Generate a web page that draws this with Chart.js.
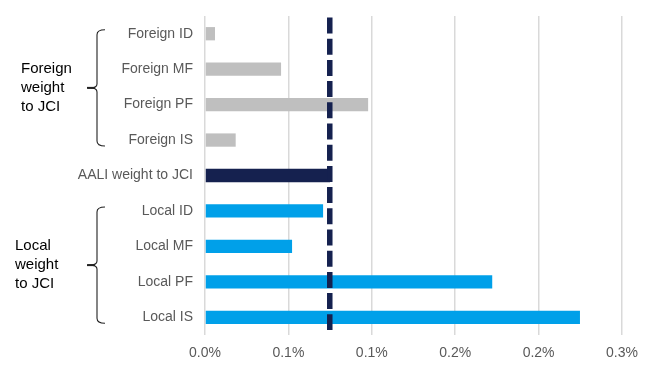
<!DOCTYPE html>
<html>
<head>
<meta charset="utf-8">
<script src="https://cdn.jsdelivr.net/npm/chart.js@4/dist/chart.umd.min.js"></script>
<style>
  html, body { margin: 0; padding: 0; background: #ffffff; }
  #wrap { width: 657px; height: 367px; position: relative; }
</style>
</head>
<body>
<div id="wrap"><canvas id="c"></canvas></div>
<script>
// ---- Data ----
const categories = ['Foreign ID', 'Foreign MF', 'Foreign PF', 'Foreign IS', 'AALI weight to JCI', 'Local ID', 'Local MF', 'Local PF', 'Local IS'];
const weights = [0.006, 0.0456, 0.0978, 0.0184, 0.075, 0.0708, 0.0522, 0.1722, 0.2248];
const aaliReference = [0.0748];
const tickLabels = ['0.0%', '0.1%', '0.1%', '0.2%', '0.2%', '0.3%'];
const groupLabels = [['Foreign', 'weight', 'to JCI'], ['Local', 'weight', 'to JCI']];
const groupRanges = [[0, 3], [5, 8]];

// ---- Styles ----
const colorFor = (cat) => cat.startsWith('Foreign') ? '#bfbfbf' : (cat.startsWith('Local') ? '#00a0e9' : '#15214f');

const overlayPlugin = {
  id: 'overlay',
  afterDatasetsDraw(chart) {
    const ctx = chart.ctx;
    const x = chart.scales.x;
    const area = chart.chartArea;
    const lx = x.getPixelForValue(aaliReference[0]);
    ctx.save();
    ctx.strokeStyle = '#15214f';
    ctx.lineWidth = 5.5;
    ctx.setLineDash([16, 5.2]);
    ctx.beginPath();
    ctx.moveTo(lx, area.top + 1.5);
    ctx.lineTo(lx, area.bottom - 5);
    ctx.stroke();
    ctx.restore();
  },
  afterDraw(chart) {
    const ctx = chart.ctx;
    const y = chart.scales.y;
    ctx.save();
    groupRanges.forEach((r, gi) => {
      const top = y.getPixelForValue(r[0]) - 4;
      const bot = y.getPixelForValue(r[1]) + 6;
      const mid = (top + bot) / 2;
      const bx = 97, hx = 105, tx = 88;
      ctx.strokeStyle = '#222222';
      ctx.lineWidth = 1.1;
      ctx.beginPath();
      ctx.moveTo(hx, top);
      ctx.quadraticCurveTo(bx, top, bx, top + 5);
      ctx.lineTo(bx, mid - 4);
      ctx.quadraticCurveTo(bx, mid, tx + 2, mid);
      ctx.lineTo(tx, mid);
      ctx.moveTo(tx + 2, mid);
      ctx.quadraticCurveTo(bx, mid, bx, mid + 4);
      ctx.lineTo(bx, bot - 5);
      ctx.quadraticCurveTo(bx, bot, hx, bot);
      ctx.stroke();
      ctx.lineWidth = 2;
      ctx.beginPath();
      ctx.moveTo(tx - 1, mid);
      ctx.lineTo(bx - 2, mid);
      ctx.stroke();
      ctx.fillStyle = '#000000';
      ctx.font = '15px "Liberation Sans", Arial, sans-serif';
      ctx.textAlign = 'left';
      ctx.textBaseline = 'middle';
      const lines = groupLabels[gi];
      const lh = 19;
      const x0 = gi === 0 ? 21 : 15;
      lines.forEach((t, i) => {
        ctx.fillText(t, x0, mid + (i - 1) * lh);
      });
    });
    ctx.restore();
  }
};

new Chart(document.getElementById('c'), {
  type: 'bar',
  data: {
    labels: categories,
    datasets: [{
      data: weights,
      backgroundColor: categories.map(colorFor),
      borderWidth: 0,
      barPercentage: 0.375,
      categoryPercentage: 1.0
    }]
  },
  options: {
    indexAxis: 'y',
    responsive: true,
    maintainAspectRatio: false,
    animation: false,
    devicePixelRatio: 1,
    layout: { padding: { left: 0, right: 35, top: 16, bottom: 0 } },
    plugins: { legend: { display: false }, tooltip: { enabled: false } },
    scales: {
      x: {
        min: 0, max: 0.25,
        ticks: {
          stepSize: 0.05,
          padding: 10,
          color: '#595959',
          font: { family: '"Liberation Sans", Arial, sans-serif', size: 14 },
          callback: (v, i) => tickLabels[i]
        },
        grid: { color: '#d9d9d9', lineWidth: 1.5, drawTicks: false },
        border: { display: false },
        afterFit: (s) => { s.height = 32; s.paddingLeft = 0; s.paddingRight = 0; }
      },
      y: {
        ticks: {
          padding: 12,
          color: '#595959',
          font: { family: '"Liberation Sans", Arial, sans-serif', size: 14 }
        },
        grid: { display: false, drawTicks: false },
        border: { display: false },
        afterFit: (s) => { s.width = 205; s.paddingTop = 0; s.paddingBottom = 0; }
      }
    }
  },
  plugins: [overlayPlugin]
});
</script>
</body>
</html>
